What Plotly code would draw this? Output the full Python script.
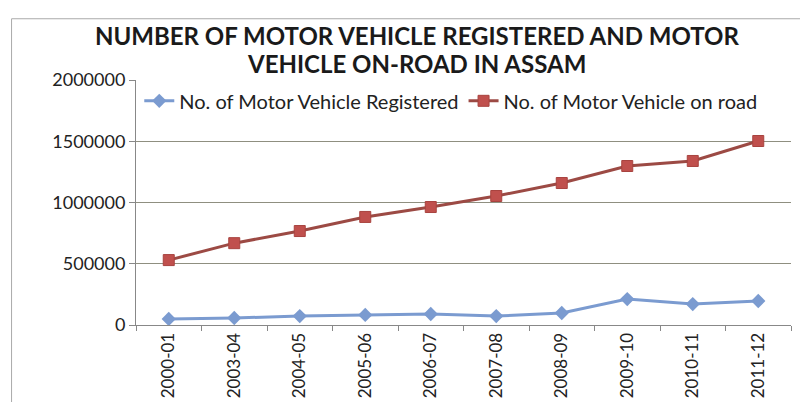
import plotly.graph_objects as go

years = ['2000-01', '2003-04', '2004-05', '2005-06', '2006-07',
         '2007-08', '2008-09', '2009-10', '2010-11', '2011-12']
registered = [49000, 57000, 73000, 82000, 90000, 73000, 98000, 212000, 171000, 196000]
on_road = [530000, 668000, 767000, 882000, 963000, 1053000, 1159000, 1298000, 1339000, 1502000]
y_ticks = [0, 500000, 1000000, 1500000, 2000000]
title_lines = ['NUMBER OF MOTOR VEHICLE REGISTERED AND MOTOR',
               'VEHICLE ON-ROAD IN ASSAM']

font = 'Lato'

fig = go.Figure()
fig.add_trace(go.Scatter(
    x=years, y=registered, name='No. of Motor Vehicle Registered',
    mode='lines+markers',
    line=dict(color='#7b9bd0', width=3),
    marker=dict(symbol='diamond', size=11, color='#7b9bd0'),
))
fig.add_trace(go.Scatter(
    x=years, y=on_road, name='No. of Motor Vehicle on road',
    mode='lines+markers',
    line=dict(color='#9c4a44', width=3),
    marker=dict(symbol='square', size=11, color='#c0504d',
                line=dict(color='#a8433f', width=1)),
))

# the page has an 8px body margin, so the figure is a bit smaller
fig.update_layout(
    width=800, height=394,
    margin=dict(l=128, r=17, t=72, b=77, autoexpand=False),
    paper_bgcolor='white', plot_bgcolor='white',
    font=dict(family=font, color='#222', size=16),
    legend=dict(
        orientation='h', x=0.005, y=0.915, xanchor='left', yanchor='middle',
        font=dict(family=font, size=20, color='#222'),
        bgcolor='rgba(0,0,0,0)', itemwidth=30, tracegroupgap=0,
    ),
    showlegend=True,
)
# title as two annotations so the lines sit where the reference has them
for i, line in enumerate(title_lines):
    fig.add_annotation(
        text='<b>%s</b>' % line, xref='paper', yref='paper',
        x=0.429, y=1 + (45 - 28 * i) / 245, xanchor='center', yanchor='middle',
        showarrow=False, font=dict(family=font, size=24, color='#1a1a1a'),
    )
fig.update_xaxes(
    type='category', range=[-0.5, 9.5], automargin=False,
    tickangle=-90, tickson='boundaries', ticks='outside', ticklen=5,
    tickcolor='#888', showline=True, linecolor='#888', linewidth=1,
    showgrid=False, tickfont=dict(family=font, size=17, color='#222'),
)
fig.update_yaxes(
    range=[0, 2000000], tickvals=y_ticks, ticktext=[str(v) for v in y_ticks],
    automargin=False,
    showgrid=True, gridcolor='#8f8f80', gridwidth=1,
    showline=True, linecolor='#888', ticks='outside', ticklen=6, tickcolor='#888',
    tickfont=dict(family=font, size=18, color='#222'), zeroline=False,
)
fig.add_shape(type='rect', xref='paper', yref='paper',
              x0=-0.19, x1=1.03, y0=-0.4, y1=1.25,
              line=dict(color='#aaa', width=1))

fig.write_html('out.html')
